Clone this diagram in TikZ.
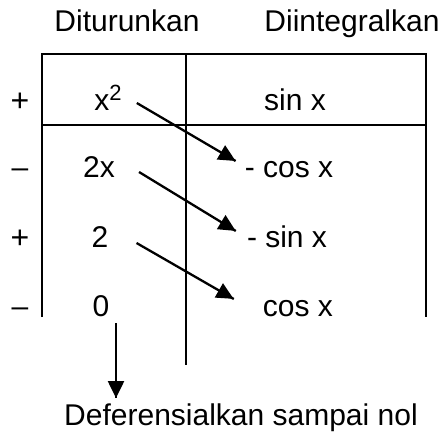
\documentclass[tikz,border=0pt]{standalone}
\usepackage{fontspec}
\setmainfont{Liberation Sans}
\usetikzlibrary{arrows.meta}
\usetikzlibrary{decorations.markings}
\tikzset{->/.style = {decoration={markings,
                                  mark=at position 1 with {\arrow{Triangle[length=17pt, width=16pt]}}},
                      postaction={decorate}}}
\tikzset{txt/.style = {inner sep = 0, anchor = base}}
\tikzset{grid/.style = {line width = 2.8pt}}
\tikzset{arr/.style = {line width = 2.3pt}}
\newcommand{\supnum}[1]{\raisebox{10pt}{\fontsize{22}{22}\selectfont #1}}

\begin{document}
\begin{tikzpicture}[x = 1pt, y = -1pt, font = \fontsize{30}{36}\selectfont]
    \useasboundingbox (0, 0) rectangle (443, 436);

    \node [txt] (hdiff) at (127, 32) {Diturunkan};
    \node [txt] (hint) at (352, 32) {Diintegralkan};

    \draw [grid] (42, 317) -- (42, 54) -- (426, 54) -- (426, 317);
    \draw [grid] (42, 125) -- (426, 125);
    \draw [grid] (186, 54) -- (186, 365);

    \node [txt, font = \fontsize{32}{36}\selectfont] (s1) at (20, 111) {+};
    \node [txt] (s2) at (20, 177) {\textendash};
    \node [txt, font = \fontsize{32}{36}\selectfont] (s3) at (20, 248) {+};
    \node [txt] (s4) at (20, 316) {\textendash};

    \node [txt] (d1) at (108, 110) {x\supnum{2}};
    \node [txt] (d2) at (99, 177) {2x};
    \node [txt] (d3) at (100, 247) {2};
    \node [txt] (d4) at (101, 316) {0};

    \node [txt] (r1) at (295, 110) {sin x};
    \node [txt] (r2) at (289, 177) {- cos x};
    \node [txt] (r3) at (287, 247) {- sin x};
    \node [txt] (r4) at (298, 316) {cos x};

    \node [txt] (bot) at (241, 425) {Deferensialkan sampai nol};

    \draw [arr, ->] ([shift = {(15, -7)}]d1.base east) -- ([shift = {(-9, -16)}]r2.base west);
    \draw [arr, ->] ([shift = {(24, -5)}]d2.base east) -- ([shift = {(-11, -16)}]r3.base west);
    \draw [arr, ->] ([shift = {(28, -4)}]d3.base east) -- ([shift = {(-29, -17)}]r4.base west);

    \coordinate (tail) at ([shift = {(15, 7)}]d4.base);
    \coordinate (head) at (tail |- bot.north);
    \draw [arr, ->] (tail) -- ([yshift = 5pt]head);
\end{tikzpicture}
\end{document}
